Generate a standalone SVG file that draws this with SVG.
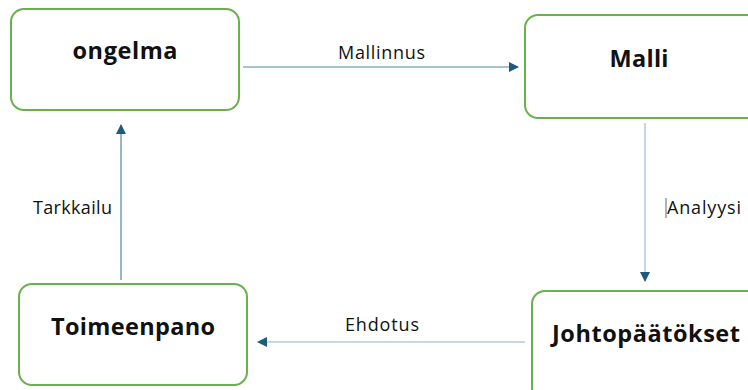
<svg xmlns="http://www.w3.org/2000/svg" width="748" height="390" viewBox="0 0 748 390">
<style>
.box{fill:#fff;stroke:#6ab04c;stroke-width:2}
.t{font-family:"Open Sans","Liberation Sans",sans-serif;font-weight:bold;font-size:23.5px;fill:#111;text-anchor:middle}
.l{font-family:"Open Sans","Liberation Sans",sans-serif;font-size:18px;fill:#111}
.c{stroke:#4f87a6;stroke-width:1.2;fill:none;marker-end:url(#ah)}
</style>
<defs>
<marker id="ah" viewBox="0 0 10 10" refX="9" refY="5" markerWidth="10" markerHeight="10" markerUnits="userSpaceOnUse" orient="auto">
<path d="M0,0 L10,5 L0,10 z" fill="#1d5a7e"/>
</marker>
</defs>
<rect width="748" height="390" fill="#fff"/>
<g id="connectors">
<line class="c" x1="243" y1="67" x2="518" y2="67"/>
<text class="l" x="338" y="59" textLength="87" lengthAdjust="spacing">Mallinnus</text>
<line class="c" x1="645" y1="123" x2="645" y2="281" style="stroke:#9cbdd0"/>
<line x1="666" y1="198" x2="666" y2="218" stroke="#666" stroke-width="1"/>
<text class="l" x="667" y="214" textLength="74" lengthAdjust="spacing">Analyysi</text>
<line class="c" x1="525" y1="342" x2="258" y2="342" style="stroke:#8db3c8"/>
<text class="l" x="345" y="331" textLength="74" lengthAdjust="spacing">Ehdotus</text>
<line class="c" x1="121" y1="280" x2="121" y2="125"/>
<text class="l" x="33" y="214" textLength="79" lengthAdjust="spacing">Tarkkailu</text>
</g>
<g id="ongelma">
<rect class="box" x="11" y="9" width="228" height="101" rx="13"/>
<text class="t" x="125" y="59" textLength="105" lengthAdjust="spacing">ongelma</text>
</g>
<g id="malli">
<rect class="box" x="525" y="15" width="240" height="103" rx="13"/>
<text class="t" x="639" y="67" textLength="59" lengthAdjust="spacing">Malli</text>
</g>
<g id="johtopaatokset">
<rect class="box" x="532" y="291" width="240" height="110" rx="13"/>
<text class="t" x="646" y="342" textLength="188" lengthAdjust="spacing">Johtopäätökset</text>
</g>
<g id="toimeenpano">
<rect class="box" x="19" y="284" width="228" height="101" rx="13"/>
<text class="t" x="133" y="335" textLength="164" lengthAdjust="spacing">Toimeenpano</text>
</g>
</svg>
